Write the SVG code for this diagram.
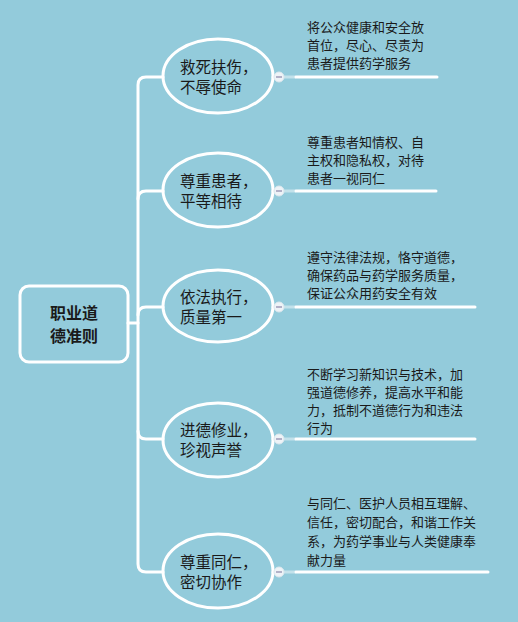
<svg xmlns="http://www.w3.org/2000/svg" width="518" height="622" viewBox="0 0 518 622">
<style>
.bg{fill:#93cbdb}
.conn{fill:none;stroke:#ffffff;stroke-width:3;stroke-linecap:round}
.fade{fill:none;stroke:#ffffff;stroke-width:3;opacity:0.45}
.ell{fill:none;stroke:#ffffff;stroke-width:3}
.root{fill:none;stroke:#ffffff;stroke-width:3}
.t{font-family:"Microsoft YaHei","Noto Sans CJK SC",sans-serif;fill:#1a1a1a}
.rt{font-size:16px;font-weight:bold;text-anchor:middle}
.mt{font-size:15.5px}
.dt{font-size:13px}
.tog{fill:#eef3f7;stroke:#dce8ee;stroke-width:1}
.minus{stroke:#8a86a8;stroke-width:1.2}
</style>
<rect class="bg" x="0" y="0" width="518" height="622"/>
<g id="connectors">
<path class="conn" d="M128,323 H138"/>
<path class="conn" d="M163,77 H146 Q138,77 138,85 V564 Q138,572 146,572 H163"/>
<path class="conn" d="M138,199 Q138,191 146,191 H163"/>
<path class="conn" d="M138,315 Q138,307 146,307 H163"/>
<path class="conn" d="M138,431 Q138,439 146,439 H163"/>
<path class="conn" d="M273,77 H279"/>
<path class="conn" d="M273,191 H279"/>
<path class="conn" d="M273,307 H279"/>
<path class="conn" d="M273,439 H279"/>
<path class="conn" d="M273,572 H279"/>
<path class="fade" d="M284,77 H296 M284,191 H296 M284,307 H296 M284,439 H296 M284,572 H296"/>
<path class="conn" d="M296,77 H437"/>
<path class="conn" d="M296,191 H436"/>
<path class="conn" d="M296,307 H475"/>
<path class="conn" d="M296,439 H475"/>
<path class="conn" d="M296,572 H488"/>
</g>
<g id="root">
<rect class="root" x="20" y="286" width="108" height="76" rx="9"/>
<text class="t rt" x="74" y="319">职业道</text>
<text class="t rt" x="74" y="342">德准则</text>
</g>
<g id="node1">
<ellipse class="ell" cx="218" cy="76" rx="55" ry="37"/>
<text class="t mt" x="180" y="73">救死扶伤，</text>
<text class="t mt" x="180" y="93">不辱使命</text>
<circle class="tog" cx="279" cy="77" r="5"/><path class="minus" d="M276,77 H282"/>
</g>
<g id="detail1">
<text class="t dt" x="307" y="32">将公众健康和安全放</text>
<text class="t dt" x="307" y="50">首位，尽心、尽责为</text>
<text class="t dt" x="307" y="68">患者提供药学服务</text>
</g>
<g id="node2">
<ellipse class="ell" cx="218" cy="190" rx="55" ry="37"/>
<text class="t mt" x="180" y="187">尊重患者，</text>
<text class="t mt" x="180" y="207">平等相待</text>
<circle class="tog" cx="279" cy="191" r="5"/><path class="minus" d="M276,191 H282"/>
</g>
<g id="detail2">
<text class="t dt" x="307" y="147">尊重患者知情权、自</text>
<text class="t dt" x="307" y="165">主权和隐私权，对待</text>
<text class="t dt" x="307" y="183">患者一视同仁</text>
</g>
<g id="node3">
<ellipse class="ell" cx="218" cy="306" rx="55" ry="36"/>
<text class="t mt" x="180" y="303">依法执行，</text>
<text class="t mt" x="180" y="323">质量第一</text>
<circle class="tog" cx="279" cy="307" r="5"/><path class="minus" d="M276,307 H282"/>
</g>
<g id="detail3">
<text class="t dt" x="307" y="262">遵守法律法规，恪守道德，</text>
<text class="t dt" x="307" y="280">确保药品与药学服务质量，</text>
<text class="t dt" x="307" y="298">保证公众用药安全有效</text>
</g>
<g id="node4">
<ellipse class="ell" cx="218" cy="440" rx="55" ry="37"/>
<text class="t mt" x="180" y="436">进德修业，</text>
<text class="t mt" x="180" y="456">珍视声誉</text>
<circle class="tog" cx="279" cy="439" r="5"/><path class="minus" d="M276,439 H282"/>
</g>
<g id="detail4">
<text class="t dt" x="307" y="379">不断学习新知识与技术，加</text>
<text class="t dt" x="307" y="397">强道德修养，提高水平和能</text>
<text class="t dt" x="307" y="415">力，抵制不道德行为和违法</text>
<text class="t dt" x="307" y="433">行为</text>
</g>
<g id="node5">
<ellipse class="ell" cx="218" cy="571" rx="55" ry="37"/>
<text class="t mt" x="180" y="568">尊重同仁，</text>
<text class="t mt" x="180" y="588">密切协作</text>
<circle class="tog" cx="279" cy="572" r="5"/><path class="minus" d="M276,572 H282"/>
</g>
<g id="detail5">
<text class="t dt" x="307" y="508">与同仁、医护人员相互理解、</text>
<text class="t dt" x="307" y="527">信任，密切配合，和谐工作关</text>
<text class="t dt" x="307" y="546">系，为药学事业与人类健康奉</text>
<text class="t dt" x="307" y="565">献力量</text>
</g>
</svg>
